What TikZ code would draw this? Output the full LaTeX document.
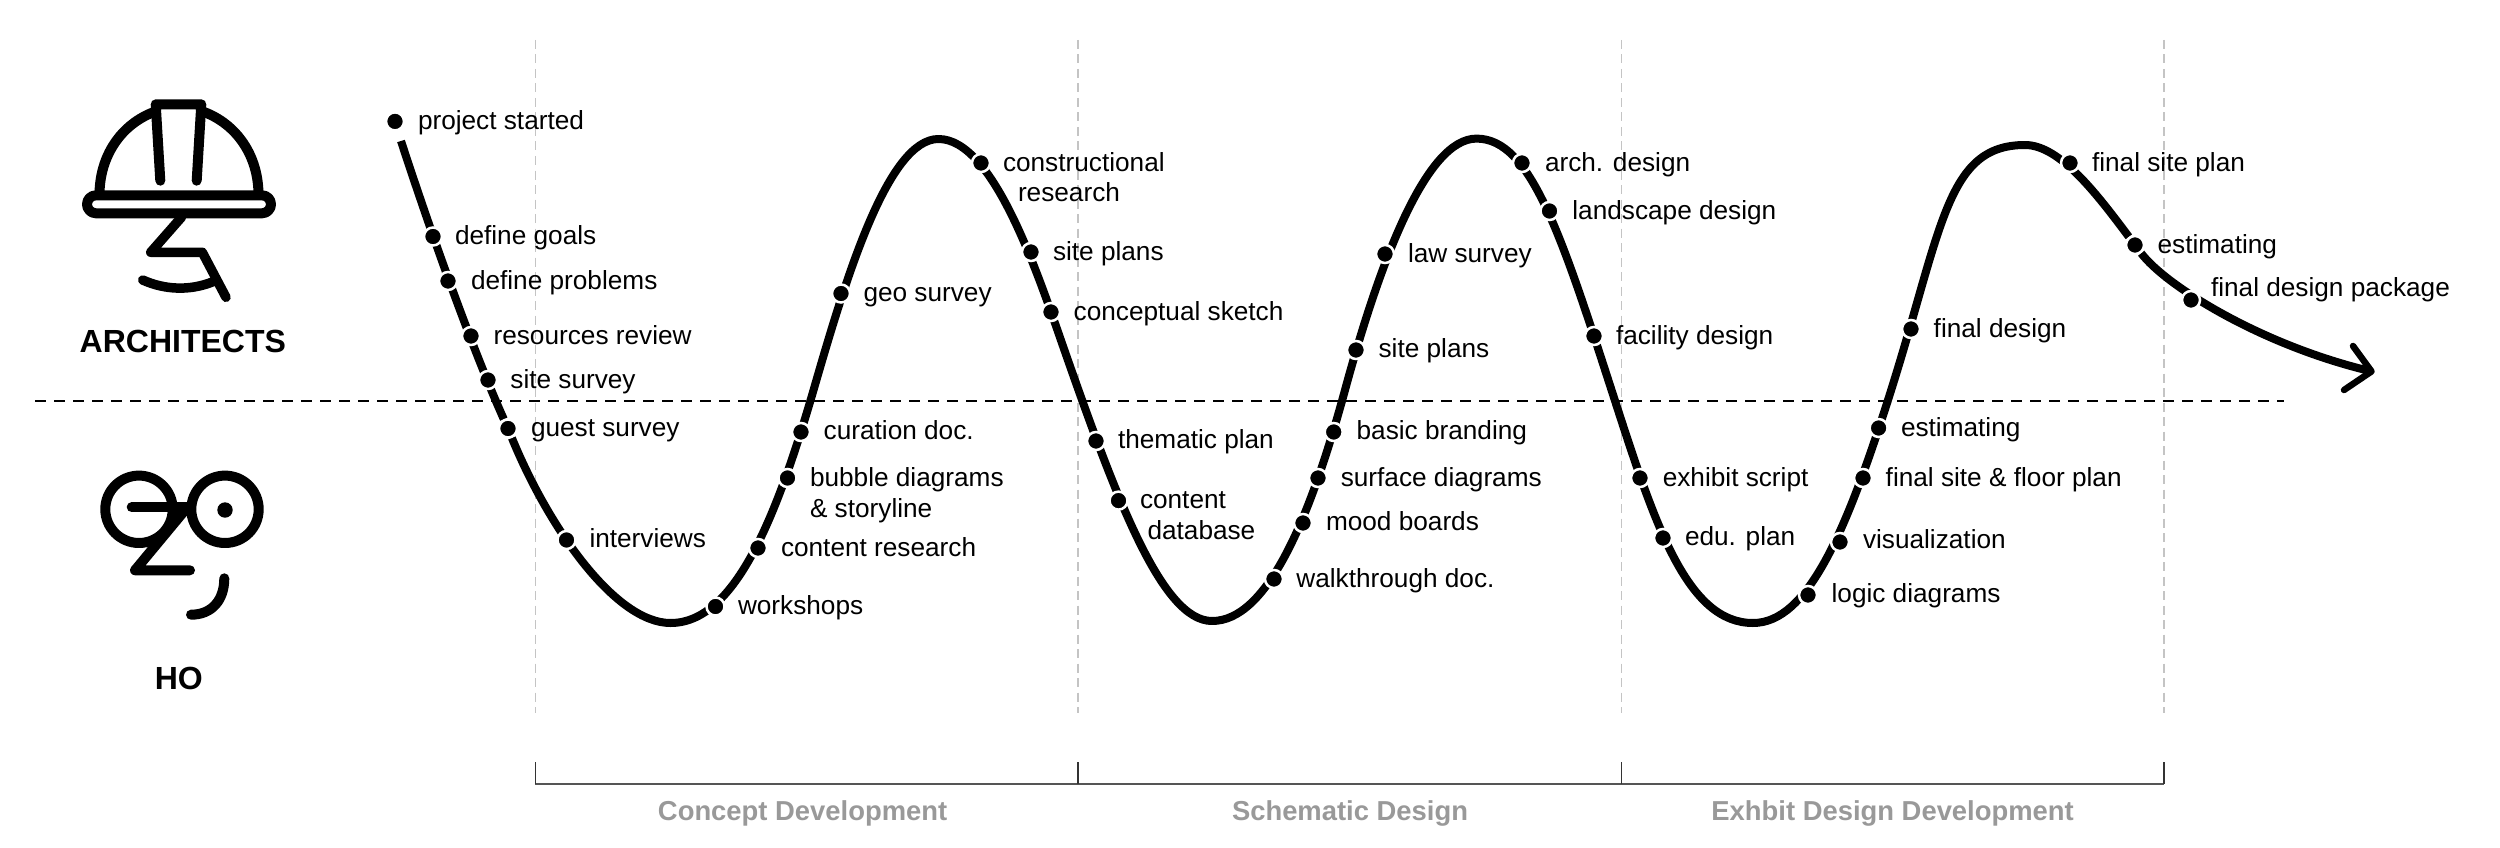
\documentclass[tikz,border=0pt]{standalone}
\usepackage{fontspec}
\setmainfont{Liberation Sans}
\pgfdeclarelayer{bg}
\pgfsetlayers{bg,main}
\definecolor{bracketgrey}{HTML}{555555}
\definecolor{tickgrey}{HTML}{333333}
\definecolor{phasegrey}{HTML}{999999}
\definecolor{guidegrey}{HTML}{C4C4C4}
\tikzset{
  dotnode/.style={circle,fill=black,draw=white,line width=2.5pt,minimum size=18pt,inner sep=0pt},
  lab/.style={anchor=base west,inner sep=0pt,outer sep=0pt,yshift=-0.8pt,font=\fontsize{26.2}{30.5}\selectfont,align=left,text=black},
  who/.style={anchor=base,inner sep=0pt,font=\fontsize{32}{36}\selectfont\bfseries,text=black},
  phase/.style={anchor=base,inner sep=0pt,font=\fontsize{27.4}{32}\selectfont\bfseries,text=phasegrey},
  curveline/.style={line width=8pt,line join=round},
  arrowbarb/.style={line width=6.5pt,line cap=round,line join=round},
  guide/.style={guidegrey,line width=1.2pt,dash pattern=on 9pt off 5.5pt},
  split/.style={black,line width=1.8pt,dash pattern=on 11pt off 8pt},
  bracketline/.style={bracketgrey,line width=2.2pt},
  bracketick/.style={tickgrey,line width=1.3pt},
  icon/.style={line width=10pt,line cap=round,line join=round},
}
\begin{document}
\begin{tikzpicture}[x=1pt,y=-1pt]
\useasboundingbox (0,0) rectangle (2500,848);
\begin{pgfonlayer}{bg}
\fill[white] (0,0) rectangle (2500,848);
\end{pgfonlayer}

% helmet
\draw[icon,line cap=butt] (99.5,195) .. controls (99.5,155) and (122,124) .. (154,112);
\draw[icon,line cap=butt] (258.5,195) .. controls (258.5,155) and (236,124) .. (204,112);
\draw[icon,rounded corners=9pt,line cap=butt] (87,195.3) rectangle (271,213.3);
\draw[icon] (160.3,180.7) -- (155.7,104.3) -- (201.3,104.3) -- (196.7,180.7);
\draw[icon,line width=9.5pt] (181.7,217) -- (150.7,252.3) -- (202.3,252.3) -- (226,297.3);
\draw[icon,line width=9.5pt] (142.7,280) .. controls (165,290) and (190,291) .. (213,281.7);
\node[who] (architects) at (182.8,352.7) {ARCHITECTS};

% HO face
\draw[icon] (139,509.3) circle (33.7);
\draw[icon] (225,509.3) circle (33.7);
\fill (225,510) circle (7.7);
\draw[icon] (131.7,507.3) -- (186.7,507.3);
\draw[icon] (186.7,508) -- (135,570.3) -- (190,570.3);
\draw[icon] (191,614.7) .. controls (212,614.7) and (224.3,600) .. (224.3,578.3);
\node[who] (ho) at (178.8,689) {HO};

% points on the curve
\node[dotnode] (d0) at (395,121.4) {};
\node[dotnode] (d1) at (433,236.5) {};
\node[dotnode] (d2) at (448,281) {};
\node[dotnode] (d3) at (471,336) {};
\node[dotnode] (d4) at (488,380) {};
\node[dotnode] (d5) at (508,428.5) {};
\node[dotnode] (d6) at (566.5,540) {};
\node[dotnode] (d7) at (715.5,606.5) {};
\node[dotnode] (d8) at (758,548) {};
\node[dotnode] (d9) at (787.5,478) {};
\node[dotnode] (d10) at (801,432) {};
\node[dotnode] (d11) at (841,293.5) {};
\node[dotnode] (d12) at (981,163) {};
\node[dotnode] (d13) at (1031,252) {};
\node[dotnode] (d14) at (1051,312) {};
\node[dotnode] (d15) at (1096,441) {};
\node[dotnode] (d16) at (1118.5,500.6) {};
\node[dotnode] (d17) at (1274,579) {};
\node[dotnode] (d18) at (1303,523) {};
\node[dotnode] (d19) at (1318,478) {};
\node[dotnode] (d20) at (1333.7,432) {};
\node[dotnode] (d21) at (1356,350) {};
\node[dotnode] (d22) at (1385,254) {};
\node[dotnode] (d23) at (1522,163) {};
\node[dotnode] (d24) at (1549.5,211) {};
\node[dotnode] (d25) at (1594,336) {};
\node[dotnode] (d26) at (1640,478) {};
\node[dotnode] (d27) at (1663,538) {};
\node[dotnode] (d28) at (1808,595) {};
\node[dotnode] (d29) at (1840,542) {};
\node[dotnode] (d30) at (1863,478) {};
\node[dotnode] (d31) at (1878.6,428) {};
\node[dotnode] (d32) at (1911,329) {};
\node[dotnode] (d33) at (2070,163) {};
\node[dotnode] (d34) at (2135,245) {};
\node[dotnode] (d35) at (2191,300) {};

\coordinate (start) at (401,141);
\coordinate (b1) at (670.6,623);
\coordinate (i1) at (815,385);
\coordinate (t1) at (938.5,139);
\coordinate (i2) at (1064,349);
\coordinate (b2) at (1212,621);
\coordinate (i3) at (1345,390);
\coordinate (t2) at (1476.5,138.6);
\coordinate (i4) at (1617,407);
\coordinate (b3) at (1753,623);
\coordinate (i5) at (1888,400);
\coordinate (t3) at (2025,145);
\coordinate (tip) at (2371.5,371.4);
\coordinate (barba) at (2353,346);
\coordinate (barbb) at (2344,390);

% labels
\node[lab] (l0) at (418,129) {project started};
\node[lab] (l1) at (455,244) {define goals};
\node[lab] (l2) at (471,289) {define problems};
\node[lab] (l3) at (493.6,343.4) {resources review};
\node[lab] (l4) at (510.4,388) {site survey};
\node[lab] (l5) at (531,436) {guest survey};
\node[lab] (l6) at (589.5,547) {interviews};
\node[lab] (l7) at (738,613.5) {workshops};
\node[lab] (l8) at (781,555.4) {content research};
\node[lab] (l9) at (810,516.5) {bubble diagrams\\\& storyline};
\node[lab] (l10) at (823.7,439) {curation doc.};
\node[lab] (l11) at (863.5,301) {geo survey};
\node[lab] (l12) at (1003,201) {constructional\\\hspace*{15pt}research};
\node[lab] (l13) at (1053,260) {site plans};
\node[lab] (l14) at (1073.7,320) {conceptual sketch};
\node[lab] (l15) at (1118,448) {thematic plan};
\node[lab] (l16) at (1140,538.6) {content\\\hspace*{7.5pt}database};
\node[lab] (l17) at (1296.4,586.8) {walkthrough doc.};
\node[lab] (l18) at (1326,529.6) {mood boards};
\node[lab] (l19) at (1340.8,485.7) {surface diagrams};
\node[lab] (l20) at (1356.6,439) {basic branding};
\node[lab] (l21) at (1378.6,357) {site plans};
\node[lab] (l22) at (1408,261.4) {law survey};
\node[lab] (l23) at (1545,170.7) {arch. design};
\node[lab] (l24) at (1572.4,218.6) {landscape design};
\node[lab] (l25) at (1616,343.6) {facility design};
\node[lab] (l26) at (1662.8,485.7) {exhibit script};
\node[lab] (l27) at (1685,545) {edu. plan};
\node[lab] (l28) at (1831.6,602) {logic diagrams};
\node[lab] (l29) at (1863,548) {visualization};
\node[lab] (l30) at (1885.7,485.7) {final site \& floor plan};
\node[lab] (l31) at (1901,435.7) {estimating};
\node[lab] (l32) at (1933.7,336.4) {final design};
\node[lab] (l33) at (2092,170.7) {final site plan};
\node[lab] (l34) at (2157.6,252.5) {estimating};
\node[lab] (l35) at (2211,295.4) {final design package};

% phases
\coordinate (v1t) at (535.4,40);  \coordinate (v1b) at (535.4,713);
\coordinate (v2t) at (1078,40);   \coordinate (v2b) at (1078,713);
\coordinate (v3t) at (1621.4,40); \coordinate (v3b) at (1621.4,713);
\coordinate (v4t) at (2164,40);   \coordinate (v4b) at (2164,713);
\coordinate (k1t) at (535.4,762); \coordinate (k1b) at (535.4,784);
\coordinate (k2t) at (1078,762);  \coordinate (k2b) at (1078,784);
\coordinate (k3t) at (1621.4,762);\coordinate (k3b) at (1621.4,784);
\coordinate (k4t) at (2164,762);  \coordinate (k4b) at (2164,784);
\coordinate (sl) at (35,401);     \coordinate (sr) at (2284,401);
\node[phase] (p1) at (802.6,820.7) {Concept Development};
\node[phase] (p2) at (1350,820.7) {Schematic Design};
\node[phase] (p3) at (1892.6,820.7) {Exhbit Design Development};

\begin{pgfonlayer}{bg}
\draw[guide] (v1t) -- (v1b);
\draw[guide] (v2t) -- (v2b);
\draw[guide] (v3t) -- (v3b);
\draw[guide] (v4t) -- (v4b);
\draw[curveline] (start)
  .. controls (435,245) and (475,355) .. (d5)
  .. controls (549,528.5) and (615.6,623) .. (b1)
  .. controls (735.6,623) and (777.4,515) .. (i1)
  .. controls (846.8,275) and (888.5,139) .. (t1)
  .. controls (993.5,139) and (1037.6,273.5) .. (i2)
  .. controls (1116.5,499) and (1162,621) .. (b2)
  .. controls (1267,621) and (1309.6,520) .. (i3)
  .. controls (1380.4,260) and (1426.5,138.6) .. (t2)
  .. controls (1531.5,138.6) and (1562,237) .. (i4)
  .. controls (1655.9,527) and (1688,623) .. (b3)
  .. controls (1808,623) and (1846.4,530) .. (i5)
  .. controls (1942.4,230) and (1945,145) .. (t3)
  .. controls (2060,145) and (2097.5,195) .. (d34)
  .. controls (2165,285) and (2260,345) .. (tip);
\draw[split] (sl) -- (sr);
\end{pgfonlayer}
\draw[arrowbarb] (barba) -- (tip) -- (barbb);
\draw[bracketline] (k1b) -- (k4b);
\draw[bracketick] (k1t) -- (k1b);
\draw[bracketick] (k2t) -- (k2b);
\draw[bracketick] (k3t) -- (k3b);
\draw[bracketick] (k4t) -- (k4b);
\end{tikzpicture}
\end{document}
